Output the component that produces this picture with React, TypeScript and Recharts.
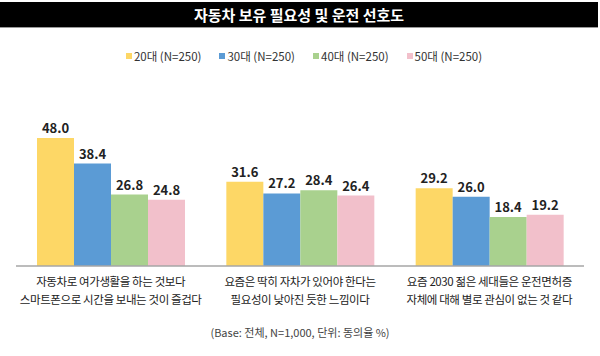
import React from 'react';
import { BarChart, Bar, XAxis, YAxis, LabelList } from 'recharts';

const categories = [
  '자동차로 여가생활을 하는 것보다\n스마트폰으로 시간을 보내는 것이 즐겁다',
  '요즘은 딱히 자차가 있어야 한다는\n필요성이 낮아진 듯한 느낌이다',
  '요즘 2030 젊은 세대들은 운전면허증\n자체에 대해 별로 관심이 없는 것 같다',
];
const age20 = [48.0, 31.6, 29.2];
const age30 = [38.4, 27.2, 26.0];
const age40 = [26.8, 28.4, 18.4];
const age50 = [24.8, 26.4, 19.2];
const seriesNames = ['20대 (N=250)', '30대 (N=250)', '40대 (N=250)', '50대 (N=250)'];
const colors = ['#FDD766', '#5B9BD5', '#A9D18E', '#F2C0CB'];

const data = categories.map((name, i) => ({
  name,
  s20: age20[i],
  s30: age30[i],
  s40: age40[i],
  s50: age50[i],
}));
const keys = ['s20', 's30', 's40', 's50'];

const FONT = '"Noto Sans CJK KR", "Noto Sans", sans-serif';

const CategoryTick = (props: any) => {
  const { x, y, payload } = props;
  const lines = String(payload.value).split('\n');
  return (
    <g transform={`translate(${x},${y})`}>
      {lines.map((line, i) => (
        <text
          key={i}
          x={0}
          y={0}
          dy={12 + i * 18}
          textAnchor="middle"
          fontSize={11.5}
          letterSpacing={-0.4}
          fill="#222"
          fontFamily={FONT}
        >
          {line}
        </text>
      ))}
    </g>
  );
};

export default function App() {
  return (
    <div
      style={{
        position: 'absolute',
        left: 0,
        top: 0,
        width: 600,
        height: 356,
        background: '#fff',
        fontFamily: FONT,
        overflow: 'hidden',
      }}
    >
      {/* title bar */}
      <div
        style={{
          position: 'absolute',
          left: 0,
          top: 2,
          width: 598,
          height: 25,
          background: '#000',
          borderBottom: '1px solid #999',
          color: '#fff',
          fontWeight: 'bold',
          fontSize: 15,
          lineHeight: '25px',
          textAlign: 'center',
        }}
      >
        자동차 보유 필요성 및 운전 선호도
      </div>

      {/* legend */}
      <div
        style={{
          position: 'absolute',
          left: 4,
          top: 47,
          width: 600,
          display: 'flex',
          justifyContent: 'center',
          gap: 18,
          fontSize: 11.5,
          color: '#333',
          lineHeight: '18px',
        }}
      >
        {seriesNames.map((n, i) => (
          <div key={n} style={{ display: 'flex', alignItems: 'center' }}>
            <span
              style={{ display: 'inline-block', width: 6, height: 6, background: colors[i], marginRight: 2 }}
            />
            {n}
          </div>
        ))}
      </div>

      <div style={{ position: 'absolute', left: 0, top: 0 }}>
        <BarChart
          width={600}
          height={356}
          data={data}
          margin={{ top: 106, right: 16, left: 16, bottom: 30 }}
          barCategoryGap={21}
          barGap={0}
        >
          <XAxis
            dataKey="name"
            height={60}
            tickLine={false}
            axisLine={{ stroke: '#A6A6A6', strokeWidth: 1.5 }}
            tick={<CategoryTick />}
            interval={0}
          />
          <YAxis hide domain={[0, 60]} />
          {keys.map((k, i) => (
            <Bar key={k} dataKey={k} fill={colors[i]} isAnimationActive={false}>
              <LabelList
                dataKey={k}
                position="top"
                offset={5}
                fontSize={13}
                fontWeight="bold"
                fill="#222"
                fontFamily={FONT}
                formatter={(v: any) => Number(v).toFixed(1)}
              />
            </Bar>
          ))}
        </BarChart>
      </div>

      {/* footnote */}
      <div
        style={{
          position: 'absolute',
          left: 0,
          top: 324,
          width: 600,
          textAlign: 'center',
          fontSize: 11,
          color: '#444',
        }}
      >
        (Base: 전체, N=1,000, 단위: 동의율 %)
      </div>
    </div>
  );
}
